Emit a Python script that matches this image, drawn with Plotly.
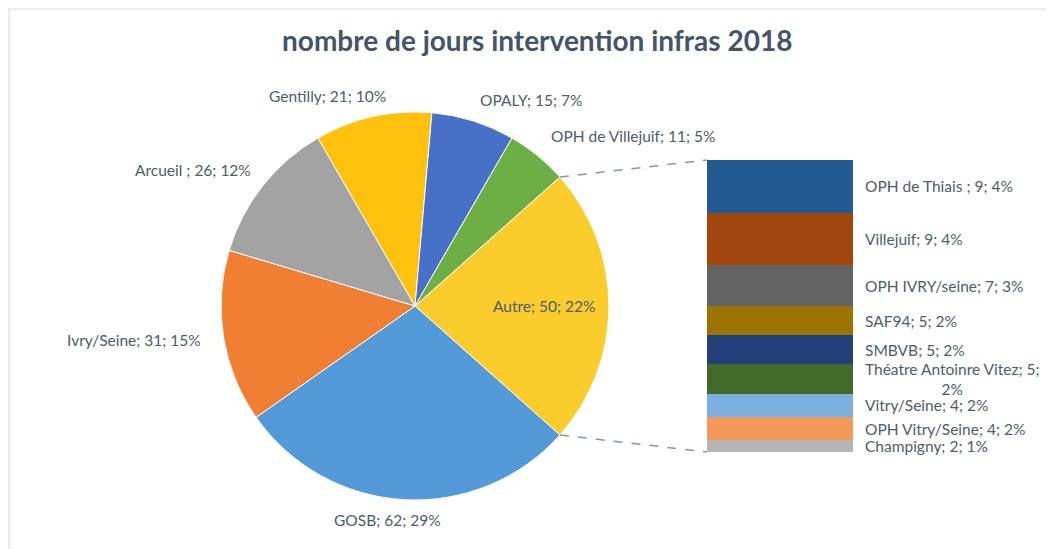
import math
import plotly.graph_objects as go

# ---------------- data ----------------
pie_labels = ["Autre", "GOSB", "Ivry/Seine", "Arcueil ", "Gentilly", "OPALY", "OPH de Villejuif"]
pie_values = [50, 62, 31, 26, 21, 15, 11]
pie_pcts = [22, 29, 15, 12, 10, 7, 5]
pie_colors = ["#FBCD2C", "#559AD8", "#F07F33", "#A3A3A3", "#FDC10E", "#4671C6", "#6DAE45"]

bar_labels = ["OPH de Thiais ", "Villejuif", "OPH IVRY/seine", "SAF94", "SMBVB",
              "Théatre Antoinre Vitez", "Vitry/Seine", "OPH Vitry/Seine", "Champigny"]
bar_values = [9, 9, 7, 5, 5, 5, 4, 4, 2]
bar_pcts = [4, 4, 3, 2, 2, 2, 2, 2, 1]
bar_colors = ["#225B93", "#A2460F", "#636363", "#9A7300", "#23407A", "#43692A",
              "#7BAFE0", "#F4985A", "#B5B5B5"]

title_text = "nombre de jours intervention infras 2018"

# ---------------- layout geometry (window pixels) ----------------
OFF = 8  # page body margin
W, H = 1054 - OFF, 549 - OFF
cx, cy, R = 415, 306, 194
bx0, bx1, by0, by1 = 707, 853, 160, 452

def px(x):
    return (x - OFF) / W

def py(y):
    return 1 - (y - OFF) / H

TXT = "#4F5B6E"
FONT = "Lato, 'Open Sans', sans-serif"
FS = 15.5

fig = go.Figure()

total = sum(pie_values)
autre_half = pie_values[0] / total * 180.0

fig.add_trace(go.Pie(
    labels=pie_labels,
    values=pie_values,
    sort=False,
    direction="clockwise",
    rotation=90 - autre_half,
    marker=dict(colors=pie_colors, line=dict(color="white", width=1)),
    textinfo="none",
    hoverinfo="label+value",
    showlegend=False,
    domain=dict(x=[px(cx - R), px(cx + R)], y=[py(cy + R), py(cy - R)]),
))

# stacked bar ("pie of bar" secondary part), bottom to top
for name, val, col in reversed(list(zip(bar_labels, bar_values, bar_colors))):
    fig.add_trace(go.Bar(
        x=[0], y=[val], name=name, marker=dict(color=col, line=dict(width=0)),
        width=1, showlegend=False, xaxis="x", yaxis="y", hoverinfo="name+y",
    ))

bar_total = sum(bar_values)

# pie label positions (pixel centres) – style only
pie_label_pos = [(544, 306), (387, 520), (134, 340), (193, 170), (327, 96), (531, 100), (633, 136)]
annotations = []
for name, v, p, (lx, ly) in zip(pie_labels, pie_values, pie_pcts, pie_label_pos):
    annotations.append(dict(
        x=px(lx), y=py(ly), xref="paper", yref="paper",
        text=f"{name}; {v}; {p}%", showarrow=False,
        font=dict(family=FONT, size=FS, color=TXT), xanchor="center", yanchor="middle",
    ))

# bar labels at segment centres
cum = bar_total
for name, v, p in zip(bar_labels, bar_values, bar_pcts):
    mid = cum - v / 2
    cum -= v
    txt = f"{name}; {v}; {p}%"
    if len(txt) > 24:
        txt = f"{name}; {v};<br>{p}%"
    annotations.append(dict(
        x=px(863), y=mid, xref="paper", yref="y",
        text=txt, showarrow=False, align="center",
        font=dict(family=FONT, size=FS, color=TXT), xanchor="left", yanchor="middle",
    ))

annotations.append(dict(
    x=px(537), y=py(40), xref="paper", yref="paper", text=f"<b>{title_text}</b>",
    showarrow=False, font=dict(family=FONT, size=28, color="#44546A"),
    xanchor="center", yanchor="middle",
))

# connector lines from the Autre slice edges to the bar corners
a = math.radians(autre_half)
top_pt = (cx + R * math.cos(a), cy - R * math.sin(a))
bot_pt = (cx + R * math.cos(a), cy + R * math.sin(a))
shapes = [
    dict(type="line", xref="paper", yref="paper",
         x0=px(top_pt[0]), y0=py(top_pt[1]), x1=px(bx0), y1=py(by0),
         line=dict(color="#8497B0", width=1.5, dash="dash")),
    dict(type="line", xref="paper", yref="paper",
         x0=px(bot_pt[0]), y0=py(bot_pt[1]), x1=px(bx0), y1=py(by1),
         line=dict(color="#8497B0", width=1.5, dash="dash")),
    dict(type="rect", xref="paper", yref="paper",
         x0=px(9), y0=py(600), x1=px(1100), y1=py(9),
         line=dict(color="#D9DEE5", width=1.2), fillcolor="rgba(0,0,0,0)", layer="below"),
]

fig.update_layout(
    width=W, height=H,
    margin=dict(l=0, r=0, t=0, b=0),
    paper_bgcolor="white", plot_bgcolor="rgba(0,0,0,0)",
    barmode="stack", bargap=0,
    xaxis=dict(domain=[px(bx0), px(bx1)], range=[-0.5, 0.5], visible=False, fixedrange=True),
    yaxis=dict(domain=[py(by1), py(by0)], range=[0, bar_total], visible=False, fixedrange=True),
    annotations=annotations,
    shapes=shapes,
)

fig.write_html("out.html")
